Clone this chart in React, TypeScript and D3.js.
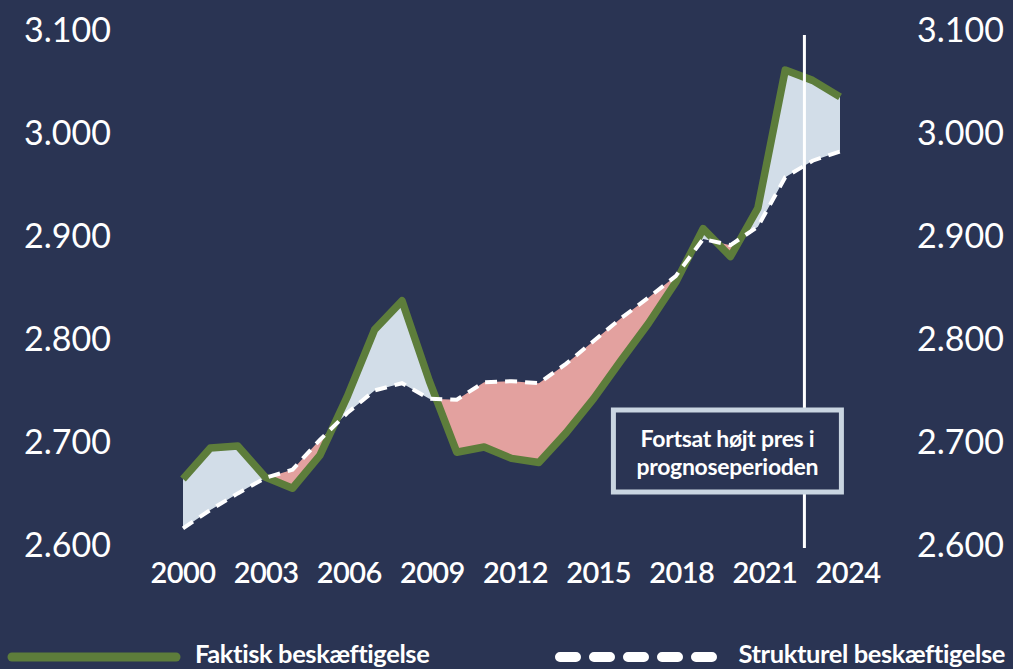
import React from 'react';
import * as d3 from 'd3';

const years = [2000, 2001, 2002, 2003, 2004, 2005, 2006, 2007, 2008, 2009, 2010, 2011, 2012,
  2013, 2014, 2015, 2016, 2017, 2018, 2019, 2020, 2021, 2022, 2023, 2024];
// Faktisk beskæftigelse (1.000 personer)
const actual = [2667, 2697, 2699, 2669, 2658, 2690, 2747, 2812, 2840, 2762, 2693, 2698, 2687,
  2683, 2712, 2745, 2782, 2818, 2858, 2910, 2883, 2930, 3064, 3054, 3038];
// Strukturel beskæftigelse
const structural = [2619, 2637, 2653, 2668, 2676, 2705, 2731, 2753, 2760, 2745, 2744, 2761, 2762,
  2760, 2779, 2801, 2823, 2843, 2864, 2900, 2894, 2912, 2960, 2976, 2985];
const yTicks = [2600, 2700, 2800, 2900, 3000, 3100];
const xTickLabels = ['2000', '2003', '2006', '2009', '2012', '2015', '2018', '2021', '2024'];
const forecastStart = 2022.7;
const noteLines = ['Fortsat højt pres i', 'prognoseperioden'];

const W = 1013;
const H = 669;
const BG = '#2a3453';
const GREEN = '#5d7d3b';
const LIGHT = '#d2dde8';
const PINK = '#e3a19f';
const FONT = 'Lato, "Open Sans", sans-serif';

export default function App() {
  const x = d3.scaleLinear().domain([2000, 2024]).range([183, 840]);
  const y = d3.scaleLinear().domain([2600, 3100]).range([548, 33]);
  const xLab = d3.scalePoint().domain(xTickLabels).range([183, 848]);
  const fmt = (v: number) => d3.format(',')(v).replace(',', '.');

  const data = years.map((yr, i) => ({ yr, a: actual[i], s: structural[i] }));

  const lineA = d3.line<any>().x(d => x(d.yr)).y(d => y(d.a))(data) || '';
  const lineS = d3.line<any>().x(d => x(d.yr)).y(d => y(d.s))(data) || '';

  // regions above / below the structural line, used as clips
  const aboveS = d3.area<any>().x(d => x(d.yr)).y0(0).y1(d => y(d.s))(data) || '';
  const belowS = d3.area<any>().x(d => x(d.yr)).y0(H).y1(d => y(d.s))(data) || '';
  const aToBottom = d3.area<any>().x(d => x(d.yr)).y0(H).y1(d => y(d.a))(data) || '';
  const aToTop = d3.area<any>().x(d => x(d.yr)).y0(0).y1(d => y(d.a))(data) || '';

  const vx = x(forecastStart);
  const boxW = 228;
  const boxH = 82;
  const boxX = vx - 191;
  const boxY = y(2700) - 35;

  return (
    <svg width={W} height={H} style={{ position: 'absolute', left: 0, top: 0 }}
      fontFamily={FONT}>
      <defs>
        <clipPath id="clipAbove"><path d={aboveS} /></clipPath>
        <clipPath id="clipBelow"><path d={belowS} /></clipPath>
      </defs>
      <rect x={0} y={0} width={W} height={H} fill={BG} />

      {yTicks.map(t => (
        <g key={t} fill="#fff" fontSize={34} dominantBaseline="middle">
          <text x={111} y={y(t)} textAnchor="end">{fmt(t)}</text>
          <text x={1004} y={y(t)} textAnchor="end">{fmt(t)}</text>
        </g>
      ))}

      {xTickLabels.map(l => (
        <text key={l} x={xLab(l)} y={576} fill="#fff" fontSize={29} fontWeight={600}
          textAnchor="middle" dominantBaseline="middle" letterSpacing={-0.6}>{l}</text>
      ))}

      <path d={aToBottom} fill={LIGHT} clipPath="url(#clipAbove)" />
      <path d={aToTop} fill={PINK} clipPath="url(#clipBelow)" />

      <path d={lineA} fill="none" stroke={GREEN} strokeWidth={7.5} strokeLinejoin="round" />
      <path d={lineS} fill="none" stroke="#fff" strokeWidth={4} strokeDasharray="12 8" />

      <line x1={vx} x2={vx} y1={35} y2={548} stroke="#fff" strokeWidth={3} />

      <rect x={boxX} y={boxY} width={boxW} height={boxH} fill={BG} stroke="#c9d5e1" strokeWidth={5} />
      {noteLines.map((t, i) => (
        <text key={t} x={boxX + boxW / 2} y={boxY + 31 + i * 28} fill="#fff" fontSize={23}
          fontWeight={700} textAnchor="middle" dominantBaseline="middle" letterSpacing={-0.3}>{t}</text>
      ))}

      <line x1={12} x2={176} y1={657} y2={657} stroke={GREEN} strokeWidth={9} strokeLinecap="round" />
      <text x={195} y={656} fill="#fff" fontSize={25.5} fontWeight={700} dominantBaseline="middle"
        letterSpacing={-0.4}>Faktisk beskæftigelse</text>
      <line x1={560} x2={712} y1={657} y2={657} stroke="#fff" strokeWidth={10} strokeLinecap="round"
        strokeDasharray="16 18" />
      <text x={1005} y={656} fill="#fff" fontSize={25.5} fontWeight={700} dominantBaseline="middle"
        textAnchor="end" letterSpacing={-0.4}>Strukturel beskæftigelse</text>
    </svg>
  );
}
